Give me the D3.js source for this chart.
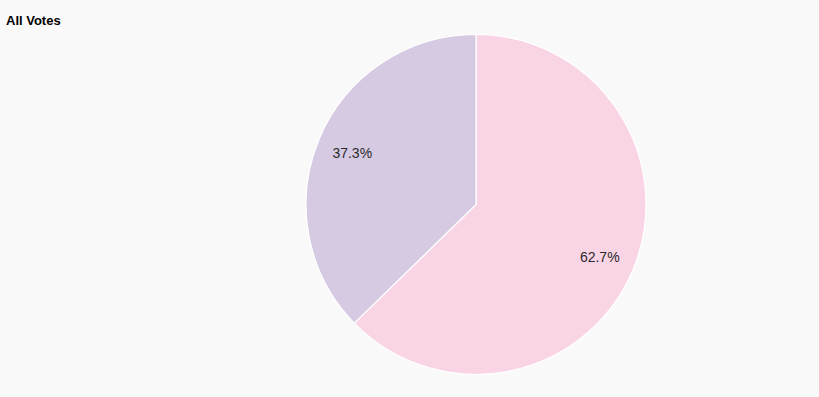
<!DOCTYPE html>
<html><head><meta charset="utf-8">
<script src="https://cdn.jsdelivr.net/npm/d3@7"></script>
<style>
html,body{margin:0;padding:0;background:#f9f9f9;}
svg{display:block;font-family:"Liberation Sans",Arial,Helvetica,sans-serif;}
</style></head>
<body>
<svg id="chart" width="819" height="397"></svg>
<script>
const title = "All Votes";
const categories = ["A", "B"];
const values = [62.7, 37.3];
const colors = ["#f9d4e5", "#d6cae3"];

const svg = d3.select("#chart");
svg.append("rect").attr("width", 819).attr("height", 397).attr("fill", "#f9f9f9");
svg.append("text").attr("x", 6).attr("y", 25).attr("font-size", 13).attr("font-weight", "bold")
  .attr("fill", "#000").text(title);

const cx = 476, cy = 204.5, r = 170;
const pie = d3.pie().sort(null).value(d => d.v);
const arcs = pie(categories.map((c, i) => ({c, v: values[i], col: colors[i]})));
const arc = d3.arc().innerRadius(0).outerRadius(r);
const labelArc = d3.arc().innerRadius(r * 0.79).outerRadius(r * 0.79);
const g = svg.append("g").attr("transform", `translate(${cx},${cy})`);
g.selectAll("path").data(arcs).join("path")
  .attr("d", arc).attr("fill", d => d.data.col)
  .attr("stroke", "#ffffff").attr("stroke-width", 1.2);
g.selectAll("text").data(arcs).join("text")
  .attr("transform", d => `translate(${labelArc.centroid(d)})`)
  .attr("text-anchor", "middle").attr("dy", "0.4em")
  .attr("font-size", 14).attr("fill", "#2a2a2a")
  .text(d => d.data.v.toFixed(1) + "%");
</script>
</body></html>
